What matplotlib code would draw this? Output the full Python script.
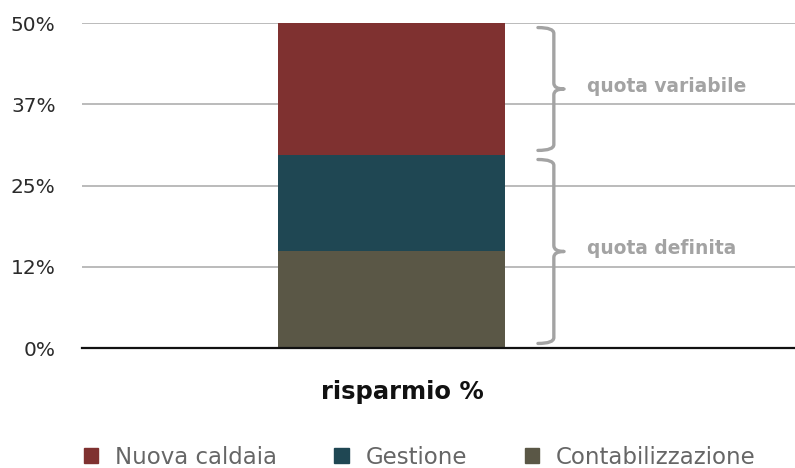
import matplotlib.pyplot as plt
from matplotlib.path import Path
from matplotlib.patches import PathPatch, Patch

# dati del grafico
categorie = ["risparmio %"]
serie = ["Contabilizzazione", "Gestione", "Nuova caldaia"]
valori = [14.9, 14.8, 20.3]
colori = ["#5a5746", "#1f4753", "#7f3130"]
tick_valori = [0, 12.5, 25, 37.5, 50]
tick_etichette = ["0%", "12%", "25%", "37%", "50%"]
quote = [("quota definita", 0, 29.7), ("quota variabile", 29.7, 50)]


def graffa(ax, x_mid, y0, y1, curl=0.07, tip=0.045, r=0.9, gap=0.7):
    """Disegna una parentesi graffa verticale tra y0 e y1."""
    y0 += gap
    y1 -= gap
    ym = (y0 + y1) / 2
    x_end = x_mid - curl
    x_tip = x_mid + tip
    verts = [
        (x_end, y1), (x_mid, y1), (x_mid, y1 - r),
        (x_mid, ym + r), (x_mid, ym), (x_tip, ym),
        (x_mid, ym), (x_mid, ym - r),
        (x_mid, y0 + r), (x_mid, y0), (x_end, y0),
    ]
    codes = [
        Path.MOVETO, Path.CURVE3, Path.CURVE3,
        Path.LINETO, Path.CURVE3, Path.CURVE3,
        Path.CURVE3, Path.CURVE3,
        Path.LINETO, Path.CURVE3, Path.CURVE3,
    ]
    ax.add_patch(PathPatch(Path(verts, codes), fill=False, edgecolor="#a3a3a3",
                           linewidth=2.4, capstyle="round", joinstyle="round",
                           clip_on=False, zorder=4))


plt.rcParams["font.family"] = ["DejaVu Sans"]

fig = plt.figure(figsize=(7.95, 4.68), dpi=100)
ax = fig.add_axes([0.1031, 0.2564, 0.8969, 0.6944])

bottom = 0
for nome, v, c in zip(serie, valori, colori):
    ax.bar(categorie, [v], bottom=bottom, width=1.0, color=c, label=nome, zorder=3)
    bottom += v

ax.set_xlim(-1.363, 1.777)
ax.set_ylim(0, 50)
ax.set_yticks(tick_valori)
ax.set_yticklabels(tick_etichette, fontsize=14.5, color="#2b2b2b")
ax.tick_params(axis="y", length=0, pad=19)
ax.set_xticks([])
ax.grid(axis="y", color="#b5b5b5", linewidth=1.3, zorder=0)
for lato in ["top", "right", "left"]:
    ax.spines[lato].set_visible(False)
ax.spines["bottom"].set_color("#111111")
ax.spines["bottom"].set_linewidth(1.6)
ax.spines["bottom"].set_zorder(5)

for testo, y0, y1 in quote:
    graffa(ax, 0.715, y0, y1)
    ax.text(0.86, (y0 + y1) / 2 + 0.4, testo, fontsize=13.4, fontweight="bold",
            color="#a3a3a3", va="center", ha="left")

fig.text(0.506, 0.162, "risparmio %", fontsize=17.5, fontweight="bold",
         color="#111111", ha="center", va="center")

handles = [Patch(color=c, label=n) for n, c in zip(serie[::-1], colori[::-1])]
leg = fig.legend(handles=handles, loc="center", bbox_to_anchor=(0.528, 0.0235),
                 ncol=3, frameon=False, handlelength=0.62, handleheight=0.62,
                 handletextpad=0.75, columnspacing=2.5, prop={"size": 16.5})
for t in leg.get_texts():
    t.set_color("#666666")

fig.savefig("out.png", dpi=100)
